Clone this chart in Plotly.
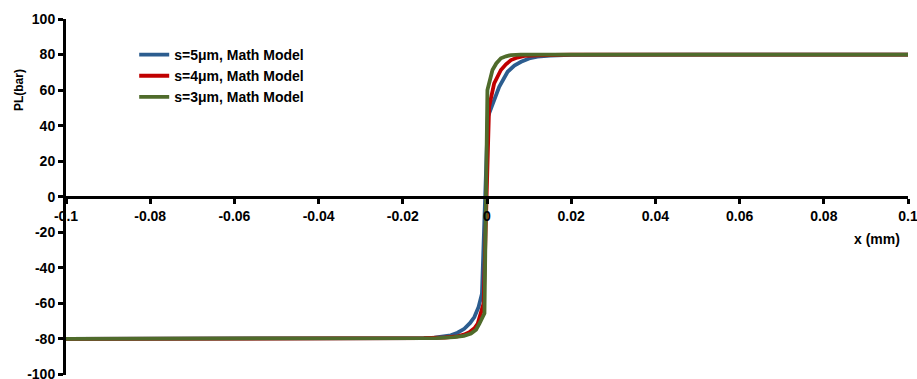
import plotly.graph_objects as go

# ---- data ----
x_s5 = [-0.1, -0.05, -0.03, -0.02, -0.015, -0.0125, -0.01, -0.0086, -0.007, -0.0054, -0.004,
        -0.003, -0.002, -0.0012, 0.0002, 0.0013, 0.0029, 0.0049, 0.0065, 0.0081, 0.010, 0.012,
        0.015, 0.02, 0.03, 0.05, 0.1]
y_s5 = [-80, -80, -79.9, -79.7, -79.5, -79.3, -78.7, -78, -76.5, -74.3, -71,
        -67.7, -62, -54.5, 45, 52.5, 61.9, 70.3, 73.8, 75.9, 77.8, 78.8,
        79.4, 79.8, 79.9, 80, 80]

x_s4 = [-0.1, -0.05, -0.03, -0.02, -0.015, -0.01, -0.007, -0.0055, -0.0042, -0.003, -0.0022,
        -0.0008, 0.0005, 0.0017, 0.0033, 0.0045, 0.0057, 0.0072, 0.0089, 0.012, 0.015, 0.02,
        0.03, 0.05, 0.1]
y_s4 = [-80, -80, -79.9, -79.8, -79.6, -79.2, -78.6, -77.6, -76.2, -74, -71.4,
        -60, 50.6, 63.8, 71.3, 74.5, 76.9, 78.3, 79.2, 79.6, 79.8, 79.9,
        80, 80, 80]

x_s3 = [-0.1, -0.05, -0.03, -0.02, -0.012, -0.0078, -0.0055, -0.0038, -0.0026, -0.0018, -0.001,
        -0.0006, 0.0001, 0.0007, 0.0013, 0.0022, 0.0033, 0.0045, 0.0057, 0.008, 0.012, 0.02,
        0.05, 0.1]
y_s3 = [-80, -80, -80, -79.9, -79.5, -79, -78.3, -77, -74.8, -71.4, -68,
        -65.6, 60, 66.5, 71.3, 75, 77.9, 79, 79.7, 79.9, 80, 80,
        80, 80]

series_names = ["s=5μm, Math Model", "s=4μm, Math Model", "s=3μm, Math Model"]
series_colors = ["#2C5D8F", "#C00000", "#4F6B2B"]

x_tickvals = [-0.1, -0.08, -0.06, -0.04, -0.02, 0, 0.02, 0.04, 0.06, 0.08, 0.1]
x_ticktext = ["-0.1", "-0.08", "-0.06", "-0.04", "-0.02", "0", "0.02", "0.04", "0.06", "0.08", "0.1"]
y_tickvals = [-100, -80, -60, -40, -20, 0, 20, 40, 60, 80, 100]
y_ticktext = ["-100", "-80", "-60", "-40", "-20", "0", "20", "40", "60", "80", "100"]

FONT = "Liberation Sans"

fig = go.Figure()
for i, (xs, ys) in enumerate([(x_s5, y_s5), (x_s4, y_s4), (x_s3, y_s3)]):
    fig.add_trace(go.Scatter(
        x=xs, y=ys, mode="lines", name=series_names[i],
        line=dict(color=series_colors[i], width=3.8),
        legendgroup=f"g{i}",
    ))

fig.update_layout(
    width=917, height=379,
    margin=dict(l=66, r=9, t=19, b=4),
    paper_bgcolor="white", plot_bgcolor="white",
    font=dict(family=FONT, color="black", size=13),
    showlegend=True,
    legend=dict(
        x=0.081, y=0.944, xanchor="left", yanchor="top",
        bgcolor="rgba(0,0,0,0)", borderwidth=0,
        font=dict(family=FONT, size=14, color="black", weight="bold"),
        tracegroupgap=0,
    ),
    xaxis=dict(
        range=[-0.1, 0.1], tickvals=x_tickvals, ticktext=x_ticktext,
        anchor="free", position=0.5, automargin=False,
        showline=True, linecolor="black", linewidth=3,
        ticks="outside", ticklen=5, tickwidth=2.5, tickcolor="black",
        showgrid=False, zeroline=False, ticklabeloverflow="allow",
        tickfont=dict(family=FONT, size=14, color="black", weight="bold"),
    ),
    yaxis=dict(
        range=[-100.3, 100], tickvals=y_tickvals, ticktext=y_ticktext,
        automargin=False,
        showline=True, linecolor="black", linewidth=3,
        ticks="outside", ticklen=5, tickwidth=2.5, tickcolor="black",
        showgrid=False, zeroline=False, ticklabeloverflow="allow",
        tickfont=dict(family=FONT, size=14, color="black", weight="bold"),
    ),
    annotations=[
        dict(text="PL(bar)", xref="paper", yref="paper",
             x=-0.056, y=0.8, xanchor="center", yanchor="middle",
             textangle=-90, showarrow=False,
             font=dict(family=FONT, size=12, color="black", weight="bold")),
        dict(text="x (mm)", xref="paper", yref="paper",
             x=0.963, y=0.383, xanchor="center", yanchor="middle",
             showarrow=False,
             font=dict(family=FONT, size=14, color="black", weight="bold")),
    ],
)

fig.write_html("out.html")
